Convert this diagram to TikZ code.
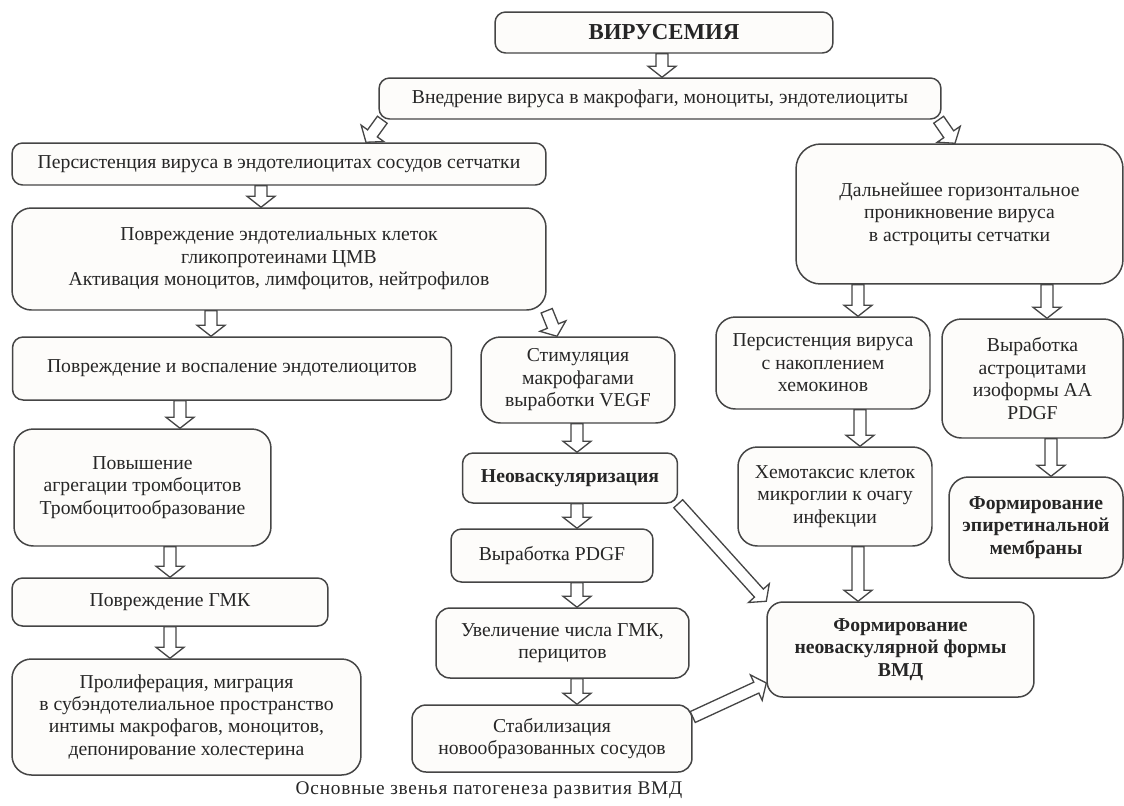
\documentclass[tikz,border=0pt]{standalone}
\usepackage{fontspec}
\setmainfont{Liberation Serif}
\usetikzlibrary{calc}
\definecolor{boxline}{HTML}{454545}
\definecolor{boxfill}{HTML}{FDFCFA}
\definecolor{textcol}{HTML}{262626}
\newcommand{\blockarrow}[2]{%
  \coordinate (ba s) at (#1);
  \coordinate (ba e) at (#2);
  \coordinate (ba h) at ($(ba e)!0.22cm!(ba s)$);
  \draw[flow] ($(ba s)!0.12cm!90:(ba e)$) -- ($(ba h)!0.12cm!90:(ba e)$) -- ($(ba h)!0.28cm!90:(ba e)$) -- (ba e)
    -- ($(ba h)!0.28cm!-90:(ba e)$) -- ($(ba h)!0.12cm!-90:(ba e)$) -- ($(ba s)!0.12cm!-90:(ba e)$) -- cycle;
}
\newcommand{\vflow}[3]{\blockarrow{#1.south -| #3,0}{#2.north -| #3,0}}

\begin{document}
\begin{tikzpicture}[x=0.02cm,y=-0.02cm,
  box/.style={draw=boxline,fill=boxfill,rounded corners=6pt,line width=0.85pt,align=center,inner sep=2pt,text=textcol,font=\fontsize{11.2}{12.8}\selectfont},
  bigbox/.style={box,rounded corners=11pt},
  boldbox/.style={box,font=\fontsize{11.2}{12.8}\selectfont\bfseries},
  flow/.style={draw=boxline,fill=white,line width=0.75pt,line join=miter}]
  \useasboundingbox (0,0) rectangle (1124,805);

  \node[box,font=\fontsize{13}{15}\selectfont\bfseries,minimum width=6.76cm,minimum height=0.82cm] (virus) at (664,32.5) {ВИРУСЕМИЯ};
  \node[box,minimum width=11.24cm,minimum height=0.82cm] (entry) at (660,98.5) {Внедрение вируса в макрофаги, моноциты, эндотелиоциты};
  \node[box,minimum width=10.68cm,minimum height=0.84cm] (persist) at (279,164) {Персистенция вируса в эндотелиоцитах сосудов сетчатки};
  \node[bigbox,rounded corners=14pt,minimum width=6.54cm,minimum height=2.8cm] (further) at (959.5,214) {Дальнейшее горизонтальное\\проникновение вируса\\в астроциты сетчатки};
  \node[bigbox,minimum width=10.68cm,minimum height=2.04cm] (damage) at (279,259) {Повреждение эндотелиальных клеток\\гликопротеинами ЦМВ\\Активация моноцитов, лимфоцитов, нейтрофилов};
  \node[box,minimum width=8.78cm,minimum height=1.26cm] (inflam) at (232,368.5) {Повреждение и воспаление эндотелиоцитов};
  \node[bigbox,minimum width=3.88cm,minimum height=1.72cm] (stim) at (578,380) {Стимуляция\\макрофагами\\выработки VEGF};
  \node[bigbox,minimum width=4.28cm,minimum height=1.84cm] (chemo) at (823,363) {Персистенция вируса\\с накоплением\\хемокинов};
  \node[bigbox,minimum width=3.62cm,minimum height=2.38cm] (astro) at (1032.5,378.5) {Выработка\\астроцитами\\изоформы АА\\PDGF};
  \node[bigbox,minimum width=5.14cm,minimum height=2.34cm] (thromb) at (142.5,487.5) {Повышение\\агрегации тромбоцитов\\Тромбоцитообразование};
  \node[boldbox,minimum width=4.3cm,minimum height=1cm] (neovasc) at (570,478) {Неоваскуляризация};
  \node[bigbox,minimum width=3.88cm,minimum height=1.98cm] (chemotax) at (835,496.5) {Хемотаксис клеток\\микроглии к очагу\\инфекции};
  \node[boldbox,rounded corners=11pt,minimum width=3.48cm,minimum height=2.02cm] (epiret) at (1036,527.5) {Формирование\\эпиретинальной\\мембраны};
  \node[box,minimum width=6.32cm,minimum height=0.96cm] (gmk) at (170,602) {Повреждение ГМК};
  \node[box,minimum width=4.04cm,minimum height=1.06cm] (pdgf) at (552,555.5) {Выработка PDGF};
  \node[boldbox,rounded corners=9pt,minimum width=5.34cm,minimum height=1.9cm] (neoform) at (900.5,649.5) {Формирование\\неоваскулярной формы\\ВМД};
  \node[box,rounded corners=8pt,minimum width=5.06cm,minimum height=1.4cm] (incr) at (562.5,643) {Увеличение числа ГМК,\\перицитов};
  \node[bigbox,minimum width=6.98cm,minimum height=2.32cm] (prolif) at (186.5,717) {Пролиферация, миграция\\в субэндотелиальное пространство\\интимы макрофагов, моноцитов,\\депонирование холестерина};
  \node[box,rounded corners=8pt,minimum width=5.6cm,minimum height=1.34cm] (stab) at (552,738.5) {Стабилизация\\новообразованных сосудов};
  \node[text=textcol,font=\fontsize{11}{12.8}\selectfont] (caption) at (489,790) {\addfontfeature{LetterSpace=4}Основные звенья патогенеза развития ВМД};

  \vflow{virus}{entry}{662}
  \blockarrow{$(entry.south west)+(4,0)$}{persist.north -| 366,0}
  \blockarrow{$(entry.south east)+(-3,0)$}{further.north -| 955,0}
  \vflow{persist}{damage}{261}
  \vflow{damage}{inflam}{211}
  \blockarrow{damage.south east}{stim.north -| 557,0}
  \vflow{further}{chemo}{858}
  \vflow{further}{astro}{1047}
  \vflow{inflam}{thromb}{180}
  \vflow{stim}{neovasc}{577}
  \vflow{chemo}{chemotax}{860}
  \vflow{astro}{epiret}{1051}
  \vflow{thromb}{gmk}{170}
  \vflow{neovasc}{pdgf}{577}
  \blockarrow{neovasc.south east}{neoform.north west}
  \vflow{chemotax}{neoform}{858}
  \vflow{gmk}{prolif}{170}
  \vflow{pdgf}{incr}{577}
  \vflow{incr}{stab}{577}
  \blockarrow{$(stab.east)+(0,-21.5)$}{neoform.west |- 0,683}
\end{tikzpicture}
\end{document}
